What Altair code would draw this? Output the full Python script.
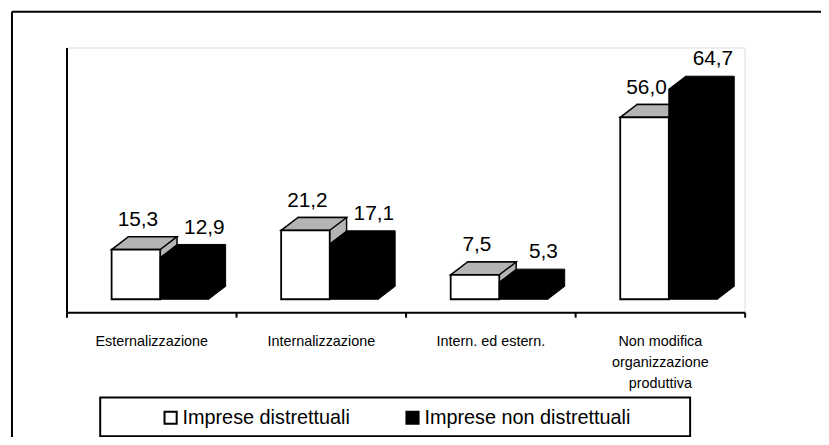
import altair as alt
import pandas as pd

categories = ["Esternalizzazione", "Internalizzazione", "Intern. ed estern.",
              "Non modifica\norganizzazione\nproduttiva"]
series = ["Imprese distrettuali", "Imprese non distrettuali"]
distrettuali = [15.3, 21.2, 7.5, 56.0]
non_distrettuali = [12.9, 17.1, 5.3, 64.7]

rows = []
for c, a, b in zip(categories, distrettuali, non_distrettuali):
    for s, v in zip(series, (a, b)):
        rows.append({"cat": c, "serie": s, "val": v, "zero": 0,
                     "lab": f"{v:.1f}".replace(".", ",")})
df = pd.DataFrame(rows)

FONT = "Liberation Sans"
W, H = 684, 267
BW = 49          # bar width (px)
DX, DY = 17, 13  # depth offset (px)
WOFF, BOFF = -15.5, 33.5
GRAY = "#b4b4b4"

yscale = alt.Scale(domain=[-4, 77.5], nice=False, zero=False)
xenc = alt.X("cat:N", sort=categories, title=None,
             scale=alt.Scale(paddingInner=0, paddingOuter=0),
             axis=alt.Axis(labelAngle=0, labelExpr="split(datum.label, '\\n')",
                           labelFont=FONT, labelFontSize=14.5, labelColor="black",
                           labelPadding=18, labelLineHeight=21, labelLimit=0,
                           domainColor="black", domainWidth=2, tickColor="black",
                           tickWidth=2, tickSize=5, tickBand="extent", grid=False))
yaxis = alt.Axis(title=None, labels=False, ticks=False, grid=False,
                 domainColor="black", domainWidth=2)
yenc = alt.Y("val:Q", scale=yscale, axis=yaxis, title=None)
yzero = alt.Y("zero:Q", scale=yscale, axis=yaxis, title=None)

color = alt.Color("serie:N", sort=series,
                  scale=alt.Scale(domain=series, range=["white", "black"]),
                  legend=alt.Legend(title=None, orient="none", legendX=95, legendY=363,
                                    direction="horizontal", symbolType="square",
                                    symbolSize=150, symbolStrokeColor="black",
                                    symbolStrokeWidth=2, symbolOpacity=1,
                                    labelFont=FONT, labelFontSize=20, labelColor="black",
                                    labelOffset=2, labelLimit=0, columnPadding=52,
                                    padding=0))

base = alt.Chart(df).encode(x=xenc, y=yenc)
wht = base.transform_filter(alt.datum.serie == series[0])
blk = base.transform_filter(alt.datum.serie == series[1])

white_side = wht.mark_bar(width=BW, xOffset=WOFF + DX, yOffset=-DY, y2Offset=-DY,
                          fill=GRAY, stroke="black", strokeWidth=1.5).encode(y2=alt.datum(0))
white_top = wht.mark_point(shape=f"M -{BW/2} 0 L {BW/2} 0 L {BW/2+DX} -{DY} L {-BW/2+DX} -{DY} Z",
                           size=4, filled=True, fill=GRAY, stroke="black", strokeWidth=1.5,
                           opacity=1, xOffset=WOFF)
white_front = wht.mark_bar(width=BW, xOffset=WOFF, stroke="black", strokeWidth=1.8,
                           opacity=1).encode(y2=alt.datum(0), color=color)

black_back = blk.mark_bar(width=BW, xOffset=BOFF + DX, yOffset=-DY, y2Offset=-DY,
                          fill="black", stroke="black", strokeWidth=1).encode(y2=alt.datum(0))
black_tl = blk.mark_point(shape=f"M -{BW/2} 0 L {-BW/2+DX} -{DY} L {-BW/2+DX} 0 Z",
                          size=4, filled=True, fill="black", stroke="black", strokeWidth=1,
                          opacity=1, xOffset=BOFF)
black_br = blk.mark_point(shape=f"M {BW/2} -{DY} L {BW/2+DX} -{DY} L {BW/2} 0 Z",
                          size=4, filled=True, fill="black", stroke="black", strokeWidth=1,
                          opacity=1, xOffset=BOFF).encode(y=yzero)
black_front = blk.mark_bar(width=BW, xOffset=BOFF, stroke="black", strokeWidth=1,
                           opacity=1).encode(y2=alt.datum(0), color=color)

txt_w = wht.mark_text(font=FONT, fontSize=21, color="black", baseline="alphabetic",
                      dx=WOFF + 2, dy=-24).encode(text="lab:N")
txt_b = blk.mark_text(font=FONT, fontSize=21, color="black", baseline="alphabetic",
                      dx=BOFF + 20, dy=-24).encode(text="lab:N")

one = pd.DataFrame({"k": [0]})
frame_top = alt.Chart(one).mark_rule(color="black", strokeWidth=2).encode(
    x=alt.value(-55), x2=alt.value(W + 120), y=alt.value(-36))
frame_left = alt.Chart(one).mark_rule(color="black", strokeWidth=2).encode(
    x=alt.value(-55), y=alt.value(-36), y2=alt.value(H + 140))
legend_box = alt.Chart(one).mark_rect(fillOpacity=0, stroke="black", strokeWidth=2).encode(
    x=alt.value(34), x2=alt.value(629), y=alt.value(353), y2=alt.value(392))

chart = alt.layer(
    frame_top, frame_left,
    white_side, white_top, white_front,
    black_back, black_tl, black_br, black_front,
    txt_w, txt_b, legend_box,
).properties(
    width=W, height=H,
    autosize=alt.AutoSizeParams(type="none"),
    padding={"left": 59, "top": 38, "right": 77, "bottom": 124},
).configure_view(stroke=None).configure(background="white")

chart.save("out.html", embed_options={"renderer": "svg", "actions": False})
